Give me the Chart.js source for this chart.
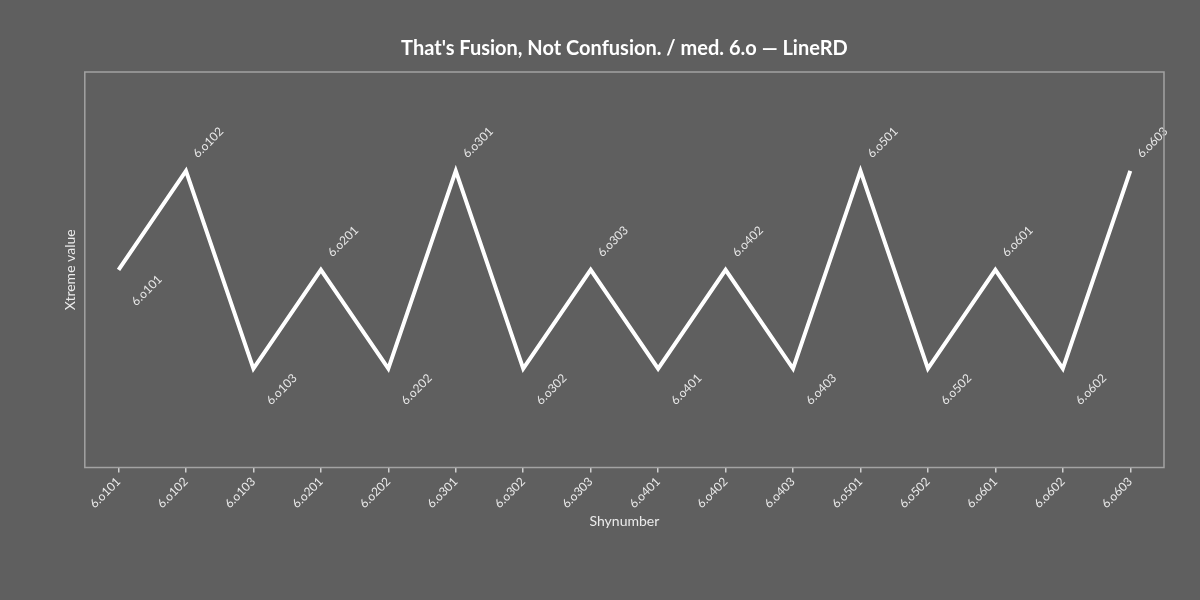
<!DOCTYPE html>
<html lang="en">
<head>
<meta charset="UTF-8">
<title>LineRD</title>
<script src="https://cdn.jsdelivr.net/npm/chart.js@4.4.1/dist/chart.umd.min.js"></script>
<style>
  html, body { margin: 0; padding: 0; background: #5f5f5f; }
</style>
</head>
<body>
<canvas id="myChart" width="1200" height="600"></canvas>
<script>
// data
var v_labels = ['6.o101','6.o102','6.o103','6.o201','6.o202','6.o301','6.o302','6.o303',
                '6.o401','6.o402','6.o403','6.o501','6.o502','6.o601','6.o602','6.o603'];
var v_values = [2, 3, 1, 2, 1, 3, 1, 2, 1, 2, 1, 3, 1, 2, 1, 3];
var v_title = "That's Fusion, Not Confusion. / med. 6.o \u2014 LineRD";

var v_font = "Lato, 'Noto Sans', sans-serif";

// frame round the plot area + title centred over it
const framePlugin = {
    id: 'frame',
    afterDraw(chart) {
        const a = chart.chartArea, c = chart.ctx;
        c.save();
        c.strokeStyle = '#a3a3a3';
        c.lineWidth = 1.5;
        c.strokeRect(a.left, a.top, a.right - a.left, a.bottom - a.top);
        c.fillStyle = '#ffffff';
        c.font = 'bold 20px ' + v_font;
        c.textAlign = 'center';
        c.textBaseline = 'middle';
        c.fillText(v_title, (a.left + a.right) / 2, 49);
        c.restore();
    }
};

// rotated point labels, alternating above / below
const pointLabelPlugin = {
    id: 'pointLabels',
    afterDatasetsDraw(chart) {
        const c = chart.ctx;
        const meta = chart.getDatasetMeta(0);
        c.save();
        c.fillStyle = '#e8e8e8';
        c.font = '12px ' + v_font;
        c.textBaseline = 'middle';
        c.textAlign = 'left';
        meta.data.forEach(function(pt, i) {
            var dx, dy;
            if (i % 2 == 1) { dx = 9; dy = -15; } else { dx = 15; dy = 34; }
            c.save();
            c.translate(pt.x + dx, pt.y + dy);
            c.rotate(-Math.PI / 4);
            c.fillText(v_labels[i], 0, 0);
            c.restore();
        });
        c.restore();
    }
};

const ctx = document.getElementById('myChart').getContext('2d');
const myChart = new Chart(ctx, {
    type: 'line',
    data: {
        labels: v_labels,
        datasets: [{
            label: 'Xtreme value',
            data: v_values,
            borderColor: '#ffffff',
            borderWidth: 4,
            pointRadius: 0,
            tension: 0,
            fill: false
        }]
    },
    options: {
        responsive: false,
        animation: false,
        devicePixelRatio: 1,
        layout: { padding: { left: 62, right: 36, top: 72, bottom: 66 } },
        plugins: {
            legend: { display: false },
            tooltip: { enabled: false },
            title: { display: false }
        },
        scales: {
            x: {
                offset: true,
                grid: { display: true, drawOnChartArea: false, drawTicks: true, tickLength: 5, tickColor: '#d0d0d0', lineWidth: 1.5 },
                border: { display: false },
                ticks: { color: '#ebebeb', maxRotation: 45, minRotation: 45, font: { family: v_font, size: 12 }, padding: 2 },
                title: { display: true, text: 'Shynumber', color: '#ebebeb', font: { family: v_font, size: 14 }, padding: { top: 0 } }
            },
            y: {
                min: 0,
                max: 4,
                grid: { display: false },
                border: { display: false },
                ticks: { display: false },
                title: { display: true, text: 'Xtreme value', color: '#ebebeb', font: { family: v_font, size: 14 }, padding: { top: 0, bottom: -2 } }
            }
        }
    },
    plugins: [framePlugin, pointLabelPlugin]
});
</script>
</body>
</html>
